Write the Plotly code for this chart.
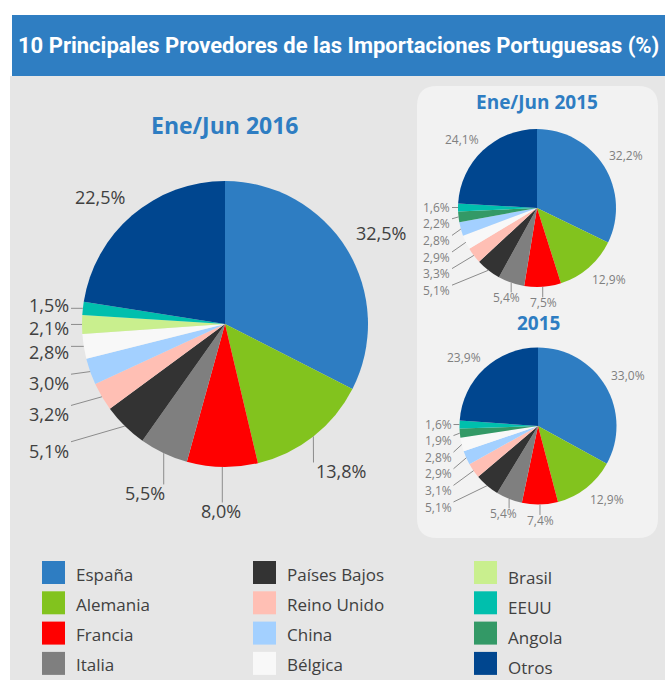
import math
import plotly.graph_objects as go

# ---------------- data ----------------
categories = ["España", "Alemania", "Francia", "Italia", "Países Bajos", "Reino Unido",
              "China", "Bélgica", "Brasil", "EEUU", "Angola", "Otros"]
category_colors = ["#2e7dc2", "#82c31e", "#ff0000", "#7f7f7f", "#333333", "#ffbfb4",
                   "#a3d0ff", "#f8f8f8", "#c9ef8e", "#00bfad", "#339966", "#00468f"]

labels_2016 = ["España", "Alemania", "Francia", "Italia", "Países Bajos", "Reino Unido",
               "China", "Bélgica", "Brasil", "EEUU", "Otros"]
values_2016 = [32.5, 13.8, 8.0, 5.5, 5.1, 3.2, 3.0, 2.8, 2.1, 1.5, 22.5]

labels_h1_2015 = ["España", "Alemania", "Francia", "Italia", "Países Bajos", "Reino Unido",
                  "Bélgica", "China", "Angola", "EEUU", "Otros"]
values_h1_2015 = [32.2, 12.9, 7.5, 5.4, 5.1, 3.3, 2.9, 2.8, 2.2, 1.6, 24.1]

labels_2015 = ["España", "Alemania", "Francia", "Italia", "Países Bajos", "Reino Unido",
               "China", "Bélgica", "Angola", "EEUU", "Otros"]
values_2015 = [33.0, 12.9, 7.4, 5.4, 5.1, 3.1, 2.9, 2.8, 1.9, 1.6, 23.9]

title_text = "10 Principales Provedores de las Importaciones Portuguesas (%)"
pie_titles = ["Ene/Jun 2016", "Ene/Jun 2015", "2015"]

# ---------------- layout helpers ----------------
W, H = 665, 680
FONT = "Open Sans, Noto Sans, sans-serif"
color_of = dict(zip(categories, category_colors))


def X(px):
    return px / W


def Y(py):
    return 1 - py / H


def fmt(v):
    return f"{v:.1f}".replace(".", ",") + "%"


def text_w(s, fs):
    w = 0
    for ch in s:
        if ch.isdigit():
            w += 0.572
        elif ch == ",":
            w += 0.26
        elif ch == "%":
            w += 0.83
        else:
            w += 0.55
    return w * fs


def clamp(a, lo=-1.0, hi=1.0):
    return max(lo, min(hi, a))


shapes = []
annotations = []

# backgrounds
shapes.append(dict(type="rect", xref="paper", yref="paper", x0=X(10), x1=X(665), y0=Y(680), y1=Y(76),
                   fillcolor="#e6e6e6", line=dict(width=0), layer="below"))
shapes.append(dict(type="rect", xref="paper", yref="paper", x0=X(12), x1=X(665), y0=Y(76), y1=Y(15),
                   fillcolor="#2f7ec2", line=dict(width=0), layer="below"))

# rounded panel
px0, px1, py0, py1, R = 417, 658, 86, 538, 20


def P(a, b):
    return f"{X(a):.5f},{Y(b):.5f}"


path = (f"M {P(px0 + R, py0)} L {P(px1 - R, py0)} Q {P(px1, py0)} {P(px1, py0 + R)} "
        f"L {P(px1, py1 - R)} Q {P(px1, py1)} {P(px1 - R, py1)} L {P(px0 + R, py1)} "
        f"Q {P(px0, py1)} {P(px0, py1 - R)} L {P(px0, py0 + R)} Q {P(px0, py0)} {P(px0 + R, py0)} Z")
shapes.append(dict(type="path", xref="paper", yref="paper", path=path, fillcolor="#f2f2f2",
                   line=dict(width=0), layer="below"))

annotations.append(dict(text=f"<b>{title_text}</b>", xref="paper", yref="paper", x=X(338), y=Y(46),
                        xanchor="center", yanchor="middle", showarrow=False,
                        font=dict(family="Roboto, Open Sans", size=22, color="white")))

fig = go.Figure()

pies = [
    dict(labels=labels_2016, values=values_2016, cx=225, cy=324, r=143, k=1.31, g=10, gap=13, fs=18,
         tcol="#404040", thresh=15, minsp=23, title=pie_titles[0], ty=125, tfs=23),
    dict(labels=labels_h1_2015, values=values_h1_2015, cx=537, cy=208, r=79, k=1.2, g=6, gap=8, fs=12,
         tcol="#808080", thresh=10, minsp=16.6, title=pie_titles[1], ty=102, tfs=19),
    dict(labels=labels_2015, values=values_2015, cx=538, cy=426, r=78.5, k=1.2, g=6, gap=8, fs=12,
         tcol="#808080", thresh=10, minsp=16.6, title=pie_titles[2], ty=323, tfs=19),
]

for p in pies:
    cx, cy, r = p["cx"], p["cy"], p["r"]
    fig.add_trace(go.Pie(
        labels=p["labels"], values=p["values"],
        marker=dict(colors=[color_of[l] for l in p["labels"]], line=dict(width=0)),
        sort=False, direction="clockwise", rotation=0,
        textinfo="none", hoverinfo="label+value", showlegend=False,
        domain=dict(x=[X(cx - r), X(cx + r)], y=[Y(cy + r), Y(cy - r)]),
    ))
    annotations.append(dict(text=f"<b>{p['title']}</b>", xref="paper", yref="paper", x=X(cx), y=Y(p["ty"]),
                            xanchor="center", yanchor="middle", showarrow=False,
                            font=dict(family=FONT, size=p["tfs"], color="#2e7dc2")))

    total = sum(p["values"])
    cum = 0
    items = []
    for v in p["values"]:
        th = 2 * math.pi * (cum + v / 2) / total
        cum += v
        ux, uy = math.sin(th), -math.cos(th)
        s = fmt(v)
        w = text_w(s, p["fs"])
        h = p["fs"] * 1.2
        deg = math.degrees(th)
        pinned = 212 <= deg <= 300
        if v >= p["thresh"]:
            # label box touching the pie (best fit, no leader line)
            lx = cx + (r + p["g"]) * ux + w / 2 * clamp(3 * ux)
            ly = cy + (r + p["g"]) * uy + h / 2 * clamp(3 * uy)
        else:
            D = p["k"] * r
            lx, ly = cx + D * ux, cy + D * uy
        if pinned:
            lx = cx - r - p["gap"] - w / 2
            ly = cy + 1.24 * r * uy
        items.append(dict(v=v, s=s, w=w, h=h, deg=deg, ux=ux, uy=uy, lx=lx, ly=ly, pinned=pinned))

    # resolve stacked left labels, from top to bottom
    stack = sorted([it for it in items if it["pinned"]], key=lambda it: -it["deg"])
    prev = None
    for it in stack:
        if prev is not None and it["ly"] < prev["ly"] + p["minsp"]:
            it["ly"] = prev["ly"] + p["minsp"]
        prev = it

    for it in items:
        annotations.append(dict(text=it["s"], xref="paper", yref="paper", x=X(it["lx"]), y=Y(it["ly"]),
                                xanchor="center", yanchor="middle", showarrow=False, borderpad=0,
                                font=dict(family=FONT, size=p["fs"], color=p["tcol"])))
        if it["v"] < p["thresh"]:
            sx, sy = cx + r * it["ux"], cy + r * it["uy"]
            bx0, bx1 = it["lx"] - it["w"] / 2 - 2, it["lx"] + it["w"] / 2 + 2
            by0, by1 = it["ly"] - it["h"] / 2 + 2, it["ly"] + it["h"] / 2 - 2
            ex, ey = min(max(sx, bx0), bx1), min(max(sy, by0), by1)
            if math.hypot(ex - sx, ey - sy) > 4:
                shapes.append(dict(type="line", xref="paper", yref="paper", x0=X(sx), y0=Y(sy),
                                   x1=X(ex), y1=Y(ey), line=dict(color="#8c8c8c", width=1)))

# legend (3 columns x 4 rows, column-major)
col_x = [42, 253, 474]
col_text_dy = [0, 0, 3]
for i, (name, col) in enumerate(zip(categories, category_colors)):
    c, rw = i // 4, i % 4
    x0 = col_x[c]
    y0 = 561 + 30.3 * rw
    shapes.append(dict(type="rect", xref="paper", yref="paper", x0=X(x0), x1=X(x0 + 23), y0=Y(y0 + 23),
                       y1=Y(y0), fillcolor=col, line=dict(width=0), layer="above"))
    annotations.append(dict(text=name, xref="paper", yref="paper", x=X(x0 + 32), y=Y(y0 + 13 + col_text_dy[c]),
                            xanchor="left", yanchor="middle", showarrow=False,
                            font=dict(family=FONT, size=17, color="#404040")))

fig.update_layout(
    width=W, height=H, margin=dict(l=0, r=0, t=0, b=0),
    paper_bgcolor="white", plot_bgcolor="white",
    shapes=shapes, annotations=annotations, showlegend=False,
)

fig.write_html("out.html", config={"displayModeBar": False},
               post_script="document.body.style.margin='0';")
